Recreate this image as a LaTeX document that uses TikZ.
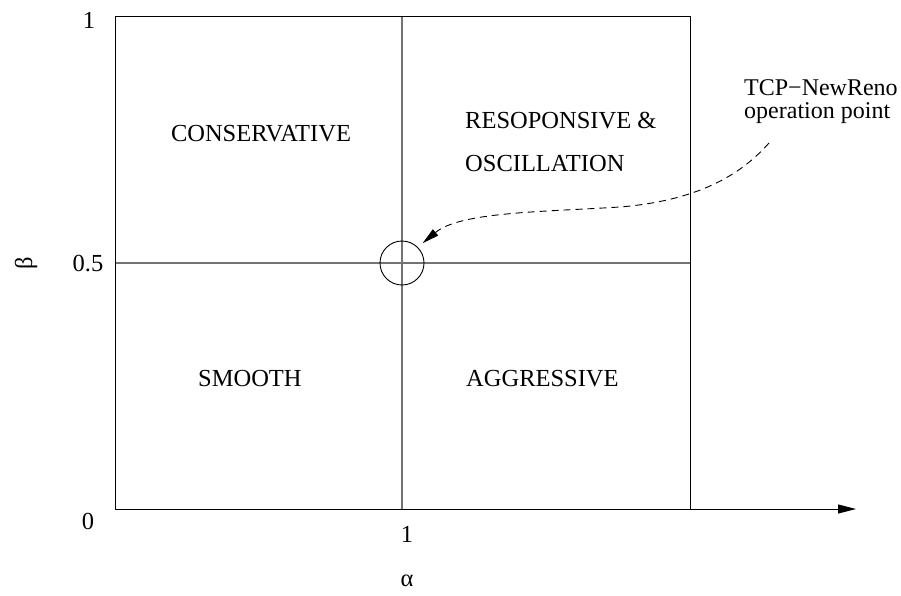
\documentclass[tikz,border=0pt]{standalone}
\usepackage{fontspec}
\setmainfont{Liberation Serif}
\usetikzlibrary{arrows.meta}
\begin{document}
\begin{tikzpicture}[x=1pt,y=-1pt,
  lbl/.style={font=\fontsize{24.5}{24.5}\selectfont, inner sep=0pt},
  frame/.style={line width=1pt, black},
  divider/.style={line width=1.3pt, black!55},
  tip/.style={-{Triangle[length=18pt,width=9pt]}},
]
\useasboundingbox (0,0) rectangle (901,595);

% corners of the quadrant box and the axis end
\coordinate (bl) at (115,509);
\coordinate (tr) at (690,16);
\coordinate (axisend) at (856,509);
\coordinate (midtop) at (402,16);
\coordinate (midbot) at (402,509);
\coordinate (midleft) at (115,263);
\coordinate (midright) at (690,263);
\coordinate (src) at (769,143);
\coordinate (bend) at (620,207);

% dividing lines between the four regions
\draw[divider] (midtop) -- (midbot);
\draw[divider] (midleft) -- (midright);

% outer box and the alpha axis
\draw[frame] (bl) rectangle (tr);
\draw[frame, tip] (bl) -- (axisend);

% operation point marker
\node[circle, draw, line width=0.9pt, minimum size=44pt, inner sep=0pt] (op) at (402,263) {};

% dashed pointer from the annotation to the marker
\draw[line width=0.9pt, dash pattern=on 7pt off 5pt, -{Triangle[length=17pt,width=8pt]}, shorten >=6pt]
  (src) .. controls (745,170) and (705,200) .. (bend)
        .. controls (540,212) and (460,212) .. (op.45);

% tick labels
\node[lbl] (ytop) at (89,20) {1};
\node[lbl] (ymid) at (88,264) {0.5};
\node[lbl] (yzero) at (88,521) {0};
\node[lbl] (xone) at (407,534) {1};
\node[lbl] (alpha) at (407,581) {α};
\node[lbl, rotate=90] (beta) at (26,263) {β};

% region labels
\node[lbl, anchor=base] (cons) at (261,141) {CONSERVATIVE};
\node[lbl, anchor=base west] (resp) at (465,128) {RESOPONSIVE \&};
\node[lbl, anchor=base west] (osc) at (465,171) {OSCILLATION};
\node[lbl, anchor=base west] (smooth) at (198,386) {SMOOTH};
\node[lbl, anchor=base west] (aggr) at (466,386) {AGGRESSIVE};

% annotation
\node[lbl, font=\fontsize{24}{24}\selectfont, anchor=base west] (tcp) at (744,95) {TCP−NewReno};
\node[lbl, font=\fontsize{24}{24}\selectfont, anchor=base west] (oppt) at (744,118) {operation point};
\end{tikzpicture}
\end{document}
